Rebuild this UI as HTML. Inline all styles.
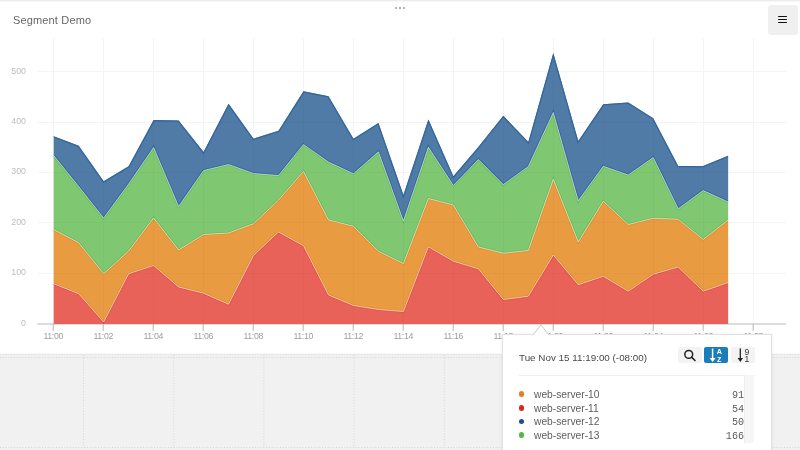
<!DOCTYPE html>
<html><head><meta charset="utf-8"><style>
*{margin:0;padding:0;box-sizing:border-box}
html,body{width:800px;height:450px;overflow:hidden;background:#fff;font-family:"Liberation Sans",sans-serif}
#title,#tiphead,.row span,.row em,svg text{will-change:transform}
#top{position:absolute;left:0;top:0;width:800px;height:2px;background:linear-gradient(#ededed 0,#ededed 1px,#f7f7f7 1px,#f7f7f7 2px)}
#title{position:absolute;left:13px;top:14px;font-size:11px;color:#666;letter-spacing:0.15px;white-space:nowrap}
#dots{position:absolute;left:395px;top:7.3px}
#dots i{position:absolute;top:0;width:2px;height:2px;background:#9a9a9a;border-radius:1px}
#menu{position:absolute;left:767.5px;top:5px;width:30px;height:30px;background:#f0f0f0;border-radius:3px}
#menu i{position:absolute;left:10.5px;width:9px;height:1.4px;background:#111;border-radius:1px}
#panel{position:absolute;left:0;top:354px;width:800px;height:96px;background:#f1f1f1;border-top:1px solid #e9e9e9;box-shadow:0 -1px 0 #f8f8f8}
svg{position:absolute;left:0;top:0}
#tip{position:absolute;left:502px;top:334px;width:269.5px;height:130px;background:#fff;border:1px solid #e2e2e2;box-shadow:0 0 3px rgba(0,0,0,0.08)}
#tiphead{position:absolute;left:16px;top:16.5px;font-size:9.85px;color:#484848;white-space:nowrap}
#sep{position:absolute;left:16px;top:40px;width:236px;height:1px;background:#efefef}
.btn{position:absolute;top:11.5px;width:24px;height:16.5px;border-radius:2px;background:#f3f3f3}
.row{position:absolute;left:0;height:14px;font-size:10.25px;color:#5c5c5c;white-space:nowrap}
.row b{position:absolute;left:15.8px;top:3.8px;width:5.6px;height:5.6px;border-radius:50%}
.row span{position:absolute;left:31px;top:1px}
.row em{position:absolute;width:60px;left:180.8px;text-align:right;font-style:normal;font-family:"Liberation Mono",monospace;font-size:10.1px;top:2.2px;color:#5a5a5a}
#track{position:absolute;left:240.8px;top:40px;width:10.5px;height:67.5px;background:#f6f6f6;border-left:1px solid #ececec}
</style></head><body>
<div id="top"></div>
<div id="title">Segment Demo</div>
<div id="dots"><i style="left:0"></i><i style="left:4px"></i><i style="left:8px"></i></div>
<div id="menu"><i style="top:11px"></i><i style="top:14px"></i><i style="top:17px"></i></div>
<div id="panel"></div>
<svg width="800" height="450" viewBox="0 0 800 450">
<defs><clipPath id="cR"><path d="M53.7,323.95 L53.70,283.75 78.68,293.75 103.66,322.00 128.64,273.75 153.62,265.50 178.60,287.00 203.58,293.25 228.56,304.25 253.54,255.50 278.52,232.00 303.50,245.75 328.48,295.00 353.46,305.50 378.44,309.50 403.42,311.50 428.40,246.75 453.38,261.25 478.36,268.75 503.34,299.50 528.32,296.25 553.30,255.00 578.28,284.75 603.26,276.25 628.24,291.25 653.22,274.25 678.20,267.00 703.18,291.25 728.16,282.50 L728.1600000000001,323.95 Z"/></clipPath><clipPath id="cO"><path d="M53.70,229.50 78.68,242.75 103.66,273.75 128.64,251.00 153.62,218.00 178.60,250.00 203.58,234.50 228.56,233.00 253.54,223.75 278.52,200.00 303.50,171.50 328.48,220.00 353.46,226.25 378.44,251.25 403.42,263.50 428.40,198.50 453.38,205.00 478.36,247.00 503.34,253.25 528.32,250.50 553.30,179.25 578.28,242.00 603.26,201.25 628.24,224.50 653.22,218.25 678.20,219.25 703.18,239.50 728.16,220.00 L728.16,282.50 703.18,291.25 678.20,267.00 653.22,274.25 628.24,291.25 603.26,276.25 578.28,284.75 553.30,255.00 528.32,296.25 503.34,299.50 478.36,268.75 453.38,261.25 428.40,246.75 403.42,311.50 378.44,309.50 353.46,305.50 328.48,295.00 303.50,245.75 278.52,232.00 253.54,255.50 228.56,304.25 203.58,293.25 178.60,287.00 153.62,265.50 128.64,273.75 103.66,322.00 78.68,293.75 53.70,283.75 Z"/></clipPath><clipPath id="cG"><path d="M53.70,155.50 78.68,186.50 103.66,218.00 128.64,184.00 153.62,147.50 178.60,206.50 203.58,170.50 228.56,164.50 253.54,173.50 278.52,175.50 303.50,144.50 328.48,162.00 353.46,173.75 378.44,151.75 403.42,221.00 428.40,147.25 453.38,185.50 478.36,159.50 503.34,184.50 528.32,166.50 553.30,112.50 578.28,200.75 603.26,166.25 628.24,175.00 653.22,157.50 678.20,208.75 703.18,190.50 728.16,202.00 L728.16,220.00 703.18,239.50 678.20,219.25 653.22,218.25 628.24,224.50 603.26,201.25 578.28,242.00 553.30,179.25 528.32,250.50 503.34,253.25 478.36,247.00 453.38,205.00 428.40,198.50 403.42,263.50 378.44,251.25 353.46,226.25 328.48,220.00 303.50,171.50 278.52,200.00 253.54,223.75 228.56,233.00 203.58,234.50 178.60,250.00 153.62,218.00 128.64,251.00 103.66,273.75 78.68,242.75 53.70,229.50 Z"/></clipPath><clipPath id="cB"><path d="M53.70,136.25 78.68,145.75 103.66,181.25 128.64,166.25 153.62,120.00 178.60,120.50 203.58,152.00 228.56,103.75 253.54,138.75 278.52,130.75 303.50,91.25 328.48,96.25 353.46,138.75 378.44,123.00 403.42,195.00 428.40,119.50 453.38,176.25 478.36,147.00 503.34,115.75 528.32,142.00 553.30,53.00 578.28,141.00 603.26,104.25 628.24,102.50 653.22,118.25 678.20,166.00 703.18,166.00 728.16,155.75 L728.16,202.00 703.18,190.50 678.20,208.75 653.22,157.50 628.24,175.00 603.26,166.25 578.28,200.75 553.30,112.50 528.32,166.50 503.34,184.50 478.36,159.50 453.38,185.50 428.40,147.25 403.42,221.00 378.44,151.75 353.46,173.75 328.48,162.00 303.50,144.50 278.52,175.50 253.54,173.50 228.56,164.50 203.58,170.50 178.60,206.50 153.62,147.50 128.64,184.00 103.66,218.00 78.68,186.50 53.70,155.50 Z"/></clipPath><clipPath id="cAll"><path d="M53.7,323.95 L53.70,136.25 78.68,145.75 103.66,181.25 128.64,166.25 153.62,120.00 178.60,120.50 203.58,152.00 228.56,103.75 253.54,138.75 278.52,130.75 303.50,91.25 328.48,96.25 353.46,138.75 378.44,123.00 403.42,195.00 428.40,119.50 453.38,176.25 478.36,147.00 503.34,115.75 528.32,142.00 553.30,53.00 578.28,141.00 603.26,104.25 628.24,102.50 653.22,118.25 678.20,166.00 703.18,166.00 728.16,155.75 L728.1600000000001,323.95 Z"/></clipPath></defs>
<g stroke="#d5d5d5" stroke-width="1" stroke-dasharray="1 1.8">
<line x1="0" y1="357.5" x2="800" y2="357.5"/>
<line x1="0" y1="447.5" x2="800" y2="447.5"/>
<line x1="83.5" y1="355" x2="83.5" y2="447.5"/><line x1="173.7" y1="355" x2="173.7" y2="447.5"/><line x1="263.9" y1="355" x2="263.9" y2="447.5"/><line x1="354.1" y1="355" x2="354.1" y2="447.5"/><line x1="444.3" y1="355" x2="444.3" y2="447.5"/><line x1="534.5" y1="355" x2="534.5" y2="447.5"/><line x1="624.7" y1="355" x2="624.7" y2="447.5"/><line x1="714.9" y1="355" x2="714.9" y2="447.5"/><line x1="805.1" y1="355" x2="805.1" y2="447.5"/>
</g>
<g stroke="#f4f4f4" stroke-width="1" shape-rendering="crispEdges">
<line x1="37.5" y1="273.28" x2="786" y2="273.28"/><line x1="37.5" y1="222.86" x2="786" y2="222.86"/><line x1="37.5" y1="172.44" x2="786" y2="172.44"/><line x1="37.5" y1="122.02" x2="786" y2="122.02"/><line x1="37.5" y1="71.60" x2="786" y2="71.60"/><line x1="53.2" y1="38" x2="53.2" y2="323.5"/><line x1="103.2" y1="38" x2="103.2" y2="323.5"/><line x1="153.2" y1="38" x2="153.2" y2="323.5"/><line x1="203.2" y1="38" x2="203.2" y2="323.5"/><line x1="253.2" y1="38" x2="253.2" y2="323.5"/><line x1="303.2" y1="38" x2="303.2" y2="323.5"/><line x1="353.2" y1="38" x2="353.2" y2="323.5"/><line x1="403.2" y1="38" x2="403.2" y2="323.5"/><line x1="453.2" y1="38" x2="453.2" y2="323.5"/><line x1="503.2" y1="38" x2="503.2" y2="323.5"/><line x1="553.2" y1="38" x2="553.2" y2="323.5"/><line x1="603.2" y1="38" x2="603.2" y2="323.5"/><line x1="653.2" y1="38" x2="653.2" y2="323.5"/><line x1="703.2" y1="38" x2="703.2" y2="323.5"/><line x1="753.2" y1="38" x2="753.2" y2="323.5"/>
</g>
<line x1="37.5" y1="324" x2="786" y2="324" stroke="#bbbbbb" stroke-width="1"/>
<path d="M53.7,323.95 L53.70,283.75 78.68,293.75 103.66,322.00 128.64,273.75 153.62,265.50 178.60,287.00 203.58,293.25 228.56,304.25 253.54,255.50 278.52,232.00 303.50,245.75 328.48,295.00 353.46,305.50 378.44,309.50 403.42,311.50 428.40,246.75 453.38,261.25 478.36,268.75 503.34,299.50 528.32,296.25 553.30,255.00 578.28,284.75 603.26,276.25 628.24,291.25 653.22,274.25 678.20,267.00 703.18,291.25 728.16,282.50 L728.1600000000001,323.95 Z" fill="#e9625a"/><path d="M53.70,229.50 78.68,242.75 103.66,273.75 128.64,251.00 153.62,218.00 178.60,250.00 203.58,234.50 228.56,233.00 253.54,223.75 278.52,200.00 303.50,171.50 328.48,220.00 353.46,226.25 378.44,251.25 403.42,263.50 428.40,198.50 453.38,205.00 478.36,247.00 503.34,253.25 528.32,250.50 553.30,179.25 578.28,242.00 603.26,201.25 628.24,224.50 653.22,218.25 678.20,219.25 703.18,239.50 728.16,220.00 L728.16,282.50 703.18,291.25 678.20,267.00 653.22,274.25 628.24,291.25 603.26,276.25 578.28,284.75 553.30,255.00 528.32,296.25 503.34,299.50 478.36,268.75 453.38,261.25 428.40,246.75 403.42,311.50 378.44,309.50 353.46,305.50 328.48,295.00 303.50,245.75 278.52,232.00 253.54,255.50 228.56,304.25 203.58,293.25 178.60,287.00 153.62,265.50 128.64,273.75 103.66,322.00 78.68,293.75 53.70,283.75 Z" fill="#e99b42"/><path d="M53.70,155.50 78.68,186.50 103.66,218.00 128.64,184.00 153.62,147.50 178.60,206.50 203.58,170.50 228.56,164.50 253.54,173.50 278.52,175.50 303.50,144.50 328.48,162.00 353.46,173.75 378.44,151.75 403.42,221.00 428.40,147.25 453.38,185.50 478.36,159.50 503.34,184.50 528.32,166.50 553.30,112.50 578.28,200.75 603.26,166.25 628.24,175.00 653.22,157.50 678.20,208.75 703.18,190.50 728.16,202.00 L728.16,220.00 703.18,239.50 678.20,219.25 653.22,218.25 628.24,224.50 603.26,201.25 578.28,242.00 553.30,179.25 528.32,250.50 503.34,253.25 478.36,247.00 453.38,205.00 428.40,198.50 403.42,263.50 378.44,251.25 353.46,226.25 328.48,220.00 303.50,171.50 278.52,200.00 253.54,223.75 228.56,233.00 203.58,234.50 178.60,250.00 153.62,218.00 128.64,251.00 103.66,273.75 78.68,242.75 53.70,229.50 Z" fill="#80c771"/><path d="M53.70,136.25 78.68,145.75 103.66,181.25 128.64,166.25 153.62,120.00 178.60,120.50 203.58,152.00 228.56,103.75 253.54,138.75 278.52,130.75 303.50,91.25 328.48,96.25 353.46,138.75 378.44,123.00 403.42,195.00 428.40,119.50 453.38,176.25 478.36,147.00 503.34,115.75 528.32,142.00 553.30,53.00 578.28,141.00 603.26,104.25 628.24,102.50 653.22,118.25 678.20,166.00 703.18,166.00 728.16,155.75 L728.16,202.00 703.18,190.50 678.20,208.75 653.22,157.50 628.24,175.00 603.26,166.25 578.28,200.75 553.30,112.50 528.32,166.50 503.34,184.50 478.36,159.50 453.38,185.50 428.40,147.25 403.42,221.00 378.44,151.75 353.46,173.75 328.48,162.00 303.50,144.50 278.52,175.50 253.54,173.50 228.56,164.50 203.58,170.50 178.60,206.50 153.62,147.50 128.64,184.00 103.66,218.00 78.68,186.50 53.70,155.50 Z" fill="#507ba6"/>
<polyline points="53.70,283.75 78.68,293.75 103.66,322.00 128.64,273.75 153.62,265.50 178.60,287.00 203.58,293.25 228.56,304.25 253.54,255.50 278.52,232.00 303.50,245.75 328.48,295.00 353.46,305.50 378.44,309.50 403.42,311.50 428.40,246.75 453.38,261.25 478.36,268.75 503.34,299.50 528.32,296.25 553.30,255.00 578.28,284.75 603.26,276.25 628.24,291.25 653.22,274.25 678.20,267.00 703.18,291.25 728.16,282.50" fill="none" stroke="#e2524b" stroke-width="2.6" clip-path="url(#cR)"/><polyline points="53.70,229.50 78.68,242.75 103.66,273.75 128.64,251.00 153.62,218.00 178.60,250.00 203.58,234.50 228.56,233.00 253.54,223.75 278.52,200.00 303.50,171.50 328.48,220.00 353.46,226.25 378.44,251.25 403.42,263.50 428.40,198.50 453.38,205.00 478.36,247.00 503.34,253.25 528.32,250.50 553.30,179.25 578.28,242.00 603.26,201.25 628.24,224.50 653.22,218.25 678.20,219.25 703.18,239.50 728.16,220.00" fill="none" stroke="#e58f30" stroke-width="2.6" clip-path="url(#cO)"/><polyline points="53.70,155.50 78.68,186.50 103.66,218.00 128.64,184.00 153.62,147.50 178.60,206.50 203.58,170.50 228.56,164.50 253.54,173.50 278.52,175.50 303.50,144.50 328.48,162.00 353.46,173.75 378.44,151.75 403.42,221.00 428.40,147.25 453.38,185.50 478.36,159.50 503.34,184.50 528.32,166.50 553.30,112.50 578.28,200.75 603.26,166.25 628.24,175.00 653.22,157.50 678.20,208.75 703.18,190.50 728.16,202.00" fill="none" stroke="#6cbd5c" stroke-width="2.6" clip-path="url(#cG)"/><polyline points="53.70,136.25 78.68,145.75 103.66,181.25 128.64,166.25 153.62,120.00 178.60,120.50 203.58,152.00 228.56,103.75 253.54,138.75 278.52,130.75 303.50,91.25 328.48,96.25 353.46,138.75 378.44,123.00 403.42,195.00 428.40,119.50 453.38,176.25 478.36,147.00 503.34,115.75 528.32,142.00 553.30,53.00 578.28,141.00 603.26,104.25 628.24,102.50 653.22,118.25 678.20,166.00 703.18,166.00 728.16,155.75" fill="none" stroke="#32689f" stroke-width="2.6" clip-path="url(#cB)"/><polyline points="53.70,283.75 78.68,293.75 103.66,322.00 128.64,273.75 153.62,265.50 178.60,287.00 203.58,293.25 228.56,304.25 253.54,255.50 278.52,232.00 303.50,245.75 328.48,295.00 353.46,305.50 378.44,309.50 403.42,311.50 428.40,246.75 453.38,261.25 478.36,268.75 503.34,299.50 528.32,296.25 553.30,255.00 578.28,284.75 603.26,276.25 628.24,291.25 653.22,274.25 678.20,267.00 703.18,291.25 728.16,282.50" fill="none" stroke="#e58f30" stroke-width="2.6" clip-path="url(#cO)"/><polyline points="53.70,229.50 78.68,242.75 103.66,273.75 128.64,251.00 153.62,218.00 178.60,250.00 203.58,234.50 228.56,233.00 253.54,223.75 278.52,200.00 303.50,171.50 328.48,220.00 353.46,226.25 378.44,251.25 403.42,263.50 428.40,198.50 453.38,205.00 478.36,247.00 503.34,253.25 528.32,250.50 553.30,179.25 578.28,242.00 603.26,201.25 628.24,224.50 653.22,218.25 678.20,219.25 703.18,239.50 728.16,220.00" fill="none" stroke="#6cbd5c" stroke-width="2.6" clip-path="url(#cG)"/><polyline points="53.70,155.50 78.68,186.50 103.66,218.00 128.64,184.00 153.62,147.50 178.60,206.50 203.58,170.50 228.56,164.50 253.54,173.50 278.52,175.50 303.50,144.50 328.48,162.00 353.46,173.75 378.44,151.75 403.42,221.00 428.40,147.25 453.38,185.50 478.36,159.50 503.34,184.50 528.32,166.50 553.30,112.50 578.28,200.75 603.26,166.25 628.24,175.00 653.22,157.50 678.20,208.75 703.18,190.50 728.16,202.00" fill="none" stroke="#32689f" stroke-width="2.6" clip-path="url(#cB)"/><polyline points="53.70,283.75 78.68,293.75 103.66,322.00 128.64,273.75 153.62,265.50 178.60,287.00 203.58,293.25 228.56,304.25 253.54,255.50 278.52,232.00 303.50,245.75 328.48,295.00 353.46,305.50 378.44,309.50 403.42,311.50 428.40,246.75 453.38,261.25 478.36,268.75 503.34,299.50 528.32,296.25 553.30,255.00 578.28,284.75 603.26,276.25 628.24,291.25 653.22,274.25 678.20,267.00 703.18,291.25 728.16,282.50" fill="none" stroke="#ffffff" stroke-opacity="0.6" stroke-width="0.9"/><polyline points="53.70,229.50 78.68,242.75 103.66,273.75 128.64,251.00 153.62,218.00 178.60,250.00 203.58,234.50 228.56,233.00 253.54,223.75 278.52,200.00 303.50,171.50 328.48,220.00 353.46,226.25 378.44,251.25 403.42,263.50 428.40,198.50 453.38,205.00 478.36,247.00 503.34,253.25 528.32,250.50 553.30,179.25 578.28,242.00 603.26,201.25 628.24,224.50 653.22,218.25 678.20,219.25 703.18,239.50 728.16,220.00" fill="none" stroke="#ffffff" stroke-opacity="0.6" stroke-width="0.9"/><polyline points="53.70,155.50 78.68,186.50 103.66,218.00 128.64,184.00 153.62,147.50 178.60,206.50 203.58,170.50 228.56,164.50 253.54,173.50 278.52,175.50 303.50,144.50 328.48,162.00 353.46,173.75 378.44,151.75 403.42,221.00 428.40,147.25 453.38,185.50 478.36,159.50 503.34,184.50 528.32,166.50 553.30,112.50 578.28,200.75 603.26,166.25 628.24,175.00 653.22,157.50 678.20,208.75 703.18,190.50 728.16,202.00" fill="none" stroke="#ffffff" stroke-opacity="0.6" stroke-width="0.9"/>
<g stroke="#000" stroke-opacity="0.022" stroke-width="1" shape-rendering="crispEdges" clip-path="url(#cAll)"><line x1="37.5" y1="273.28" x2="786" y2="273.28"/><line x1="37.5" y1="222.86" x2="786" y2="222.86"/><line x1="37.5" y1="172.44" x2="786" y2="172.44"/><line x1="37.5" y1="122.02" x2="786" y2="122.02"/><line x1="37.5" y1="71.60" x2="786" y2="71.60"/><line x1="53.2" y1="38" x2="53.2" y2="323.5"/><line x1="103.2" y1="38" x2="103.2" y2="323.5"/><line x1="153.2" y1="38" x2="153.2" y2="323.5"/><line x1="203.2" y1="38" x2="203.2" y2="323.5"/><line x1="253.2" y1="38" x2="253.2" y2="323.5"/><line x1="303.2" y1="38" x2="303.2" y2="323.5"/><line x1="353.2" y1="38" x2="353.2" y2="323.5"/><line x1="403.2" y1="38" x2="403.2" y2="323.5"/><line x1="453.2" y1="38" x2="453.2" y2="323.5"/><line x1="503.2" y1="38" x2="503.2" y2="323.5"/><line x1="553.2" y1="38" x2="553.2" y2="323.5"/><line x1="603.2" y1="38" x2="603.2" y2="323.5"/><line x1="653.2" y1="38" x2="653.2" y2="323.5"/><line x1="703.2" y1="38" x2="703.2" y2="323.5"/><line x1="753.2" y1="38" x2="753.2" y2="323.5"/></g>
<g stroke="#b5b5b5" stroke-width="1"><line x1="53.2" y1="324" x2="53.2" y2="330.8"/><line x1="103.2" y1="324" x2="103.2" y2="330.8"/><line x1="153.2" y1="324" x2="153.2" y2="330.8"/><line x1="203.2" y1="324" x2="203.2" y2="330.8"/><line x1="253.2" y1="324" x2="253.2" y2="330.8"/><line x1="303.2" y1="324" x2="303.2" y2="330.8"/><line x1="353.2" y1="324" x2="353.2" y2="330.8"/><line x1="403.2" y1="324" x2="403.2" y2="330.8"/><line x1="453.2" y1="324" x2="453.2" y2="330.8"/><line x1="503.2" y1="324" x2="503.2" y2="330.8"/><line x1="553.2" y1="324" x2="553.2" y2="330.8"/><line x1="603.2" y1="324" x2="603.2" y2="330.8"/><line x1="653.2" y1="324" x2="653.2" y2="330.8"/><line x1="703.2" y1="324" x2="703.2" y2="330.8"/><line x1="753.2" y1="324" x2="753.2" y2="330.8"/></g>
<g font-family="Liberation Sans, sans-serif" font-size="8.8px" fill="#bdbdbd"><text x="26" y="325.60" text-anchor="end">0</text><text x="26" y="275.18" text-anchor="end">100</text><text x="26" y="224.76" text-anchor="end">200</text><text x="26" y="174.34" text-anchor="end">300</text><text x="26" y="123.92" text-anchor="end">400</text><text x="26" y="73.50" text-anchor="end">500</text></g>
<g font-family="Liberation Sans, sans-serif" font-size="8.8px" letter-spacing="-0.35" fill="#9e9e9e"><text x="53.2" y="339" text-anchor="middle">11:00</text><text x="103.2" y="339" text-anchor="middle">11:02</text><text x="153.2" y="339" text-anchor="middle">11:04</text><text x="203.2" y="339" text-anchor="middle">11:06</text><text x="253.2" y="339" text-anchor="middle">11:08</text><text x="303.2" y="339" text-anchor="middle">11:10</text><text x="353.2" y="339" text-anchor="middle">11:12</text><text x="403.2" y="339" text-anchor="middle">11:14</text><text x="453.2" y="339" text-anchor="middle">11:16</text><text x="503.2" y="339" text-anchor="middle">11:18</text><text x="553.2" y="339" text-anchor="middle">11:20</text><text x="603.2" y="339" text-anchor="middle">11:22</text><text x="653.2" y="339" text-anchor="middle">11:24</text><text x="703.2" y="339" text-anchor="middle">11:26</text><text x="753.2" y="339" text-anchor="middle">11:28</text></g>
</svg>
<div id="tip">
<div id="tiphead">Tue Nov 15 11:19:00 (-08:00)</div>
<div id="sep"></div>
<div class="btn" style="left:174.5px"><svg width="24" height="17" viewBox="0 0 24 17"><circle cx="10.75" cy="7.4" r="3.9" fill="none" stroke="#222" stroke-width="1.5"/><line x1="13.5" y1="10.2" x2="17" y2="13.5" stroke="#222" stroke-width="1.6" stroke-linecap="round"/></svg></div>
<div class="btn" style="left:201.4px;background:#1b7db9"><svg width="24" height="17" viewBox="0 0 24 17"><line x1="8.6" y1="1.5" x2="8.6" y2="13" stroke="#fff" stroke-width="1.5"/><path d="M5.6 11 L8.6 15 L11.6 11 Z" fill="#fff"/><text x="15.3" y="7.3" font-family="Liberation Sans, sans-serif" font-weight="bold" font-size="7.2px" fill="#fff" text-anchor="middle">A</text><text x="15.3" y="14.6" font-family="Liberation Sans, sans-serif" font-weight="bold" font-size="7.2px" fill="#fff" text-anchor="middle">Z</text></svg></div>
<div class="btn" style="left:228.1px"><svg width="24" height="17" viewBox="0 0 24 17"><line x1="9.3" y1="1.5" x2="9.3" y2="13" stroke="#222" stroke-width="1.3"/><path d="M6.6 11 L9.3 15 L12 11 Z" fill="#222"/><text x="15.8" y="8.1" font-family="Liberation Sans, sans-serif" font-size="8.6px" fill="#333" text-anchor="middle">9</text><text x="15.8" y="15.2" font-family="Liberation Sans, sans-serif" font-size="8.6px" fill="#333" text-anchor="middle">1</text></svg></div>
<div id="track"></div>
<div class="row" style="top:52.5px"><b style="background:#e67e22"></b><span>web-server-10</span><em>91</em></div>
<div class="row" style="top:66.5px"><b style="background:#e0241f"></b><span>web-server-11</span><em>54</em></div>
<div class="row" style="top:80px"><b style="background:#1f4d99"></b><span>web-server-12</span><em>50</em></div>
<div class="row" style="top:93.5px"><b style="background:#57b83e"></b><span>web-server-13</span><em>166</em></div>
</div>
<svg id="arrow" width="20" height="12" style="left:531px;top:323.5px" viewBox="0 0 20 12"><path d="M1.6 11.5 L10 0.9 L18.4 11.5" fill="#fff" stroke="#cdcdcd" stroke-width="1"/><rect x="0" y="11.6" width="20" height="1" fill="#fff"/></svg>
</body></html>
